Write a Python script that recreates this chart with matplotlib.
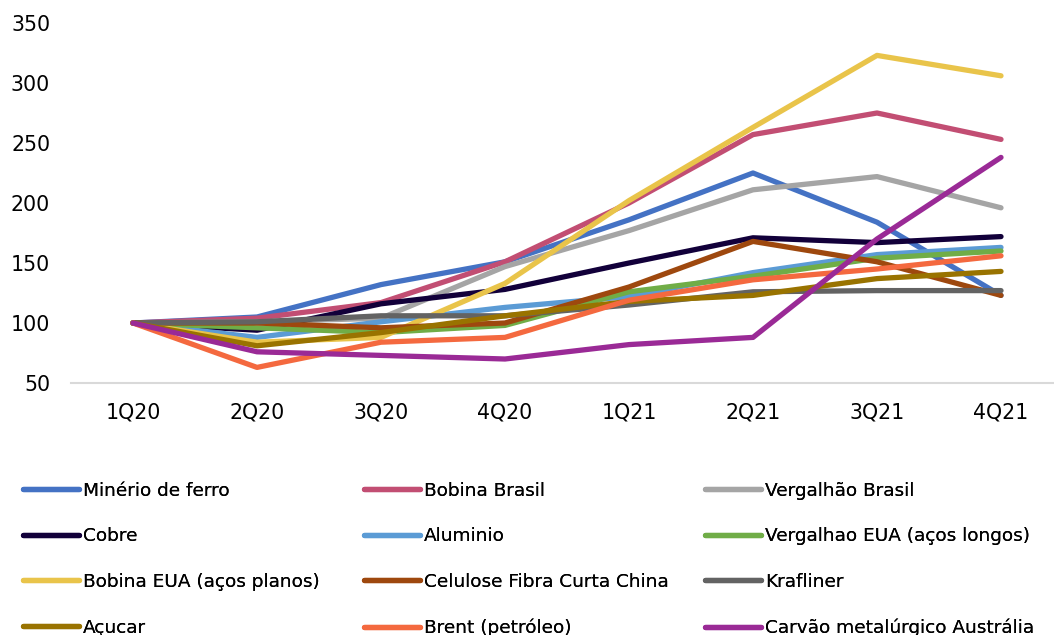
import matplotlib
matplotlib.use("Agg")
import matplotlib.pyplot as plt

plt.rcParams['font.family'] = ['DejaVu Sans']

quarters = ["1Q20", "2Q20", "3Q20", "4Q20", "1Q21", "2Q21", "3Q21", "4Q21"]

minerio_ferro = [100, 105, 132, 151, 186, 225, 184, 123]
bobina_brasil = [100, 104, 117, 151, 200, 257, 275, 253]
vergalhao_brasil = [100, 101, 104, 147, 177, 211, 222, 196]
cobre = [100, 94, 116, 128, 150, 171, 167, 172]
aluminio = [100, 88, 101, 113, 122, 142, 157, 163]
vergalhao_eua = [100, 96, 92, 98, 126, 139, 154, 160]
bobina_eua = [100, 84, 88, 133, 202, 263, 323, 306]
celulose = [100, 100, 96, 100, 130, 168, 151, 123]
krafliner = [100, 101, 106, 106, 115, 126, 127, 127]
acucar = [100, 81, 92, 106, 118, 123, 137, 143]
brent = [100, 63, 84, 88, 119, 136, 145, 156]
carvao = [100, 76, 73, 70, 82, 88, 170, 238]

series = [
    ("Minério de ferro", minerio_ferro, "#4472C4"),
    ("Bobina Brasil", bobina_brasil, "#C24E73"),
    ("Vergalhão Brasil", vergalhao_brasil, "#A5A5A5"),
    ("Cobre", cobre, "#12003A"),
    ("Aluminio", aluminio, "#5B9BD5"),
    ("Vergalhao EUA (aços longos)", vergalhao_eua, "#70AD47"),
    ("Bobina EUA (aços planos)", bobina_eua, "#E9C44A"),
    ("Celulose Fibra Curta China", celulose, "#9E480E"),
    ("Krafliner", krafliner, "#636363"),
    ("Açucar", acucar, "#997300"),
    ("Brent (petróleo)", brent, "#F4693F"),
    ("Carvão metalúrgico Austrália", carvao, "#9A2A96"),
]

W, H = 1054, 635
fig = plt.figure(figsize=(W / 100, H / 100), dpi=100)
ax = fig.add_axes([71 / W, (H - 383) / H, 992 / W, 360 / H])

x = list(range(len(quarters)))
handles = []
for name, vals, color in series:
    ln, = ax.plot(x, vals, color=color, lw=3.8, solid_capstyle="round",
                  solid_joinstyle="round", label=name)
    handles.append(ln)

ax.set_xlim(-0.5, len(quarters) - 0.5)
ax.set_ylim(50, 350)
ax.set_yticks([50, 100, 150, 200, 250, 300, 350])
ax.set_xticks(x)
ax.set_xticklabels(quarters)
ax.tick_params(axis="both", length=0, labelsize=14.8, colors="#000000")
ax.tick_params(axis="x", pad=14)
ax.tick_params(axis="y", pad=15)
for side in ("top", "right", "left"):
    ax.spines[side].set_visible(False)
ax.spines["bottom"].set_color("#D9D9D9")
ax.spines["bottom"].set_linewidth(1.5)

# three legend columns, filled row by row
col_x = [23, 364, 705]
for c in range(3):
    hs = handles[c::3]
    leg = fig.legend(handles=hs, labels=[h.get_label() for h in hs],
                     loc="upper left", bbox_to_anchor=(col_x[c] / W, (H - 481.5) / H),
                     frameon=False, fontsize=13.3, handlelength=3.05,
                     handletextpad=0.2, labelspacing=1.5, borderpad=0,
                     borderaxespad=0)
    fig.add_artist(leg)

fig.savefig("out.png", dpi=100, facecolor="white")
